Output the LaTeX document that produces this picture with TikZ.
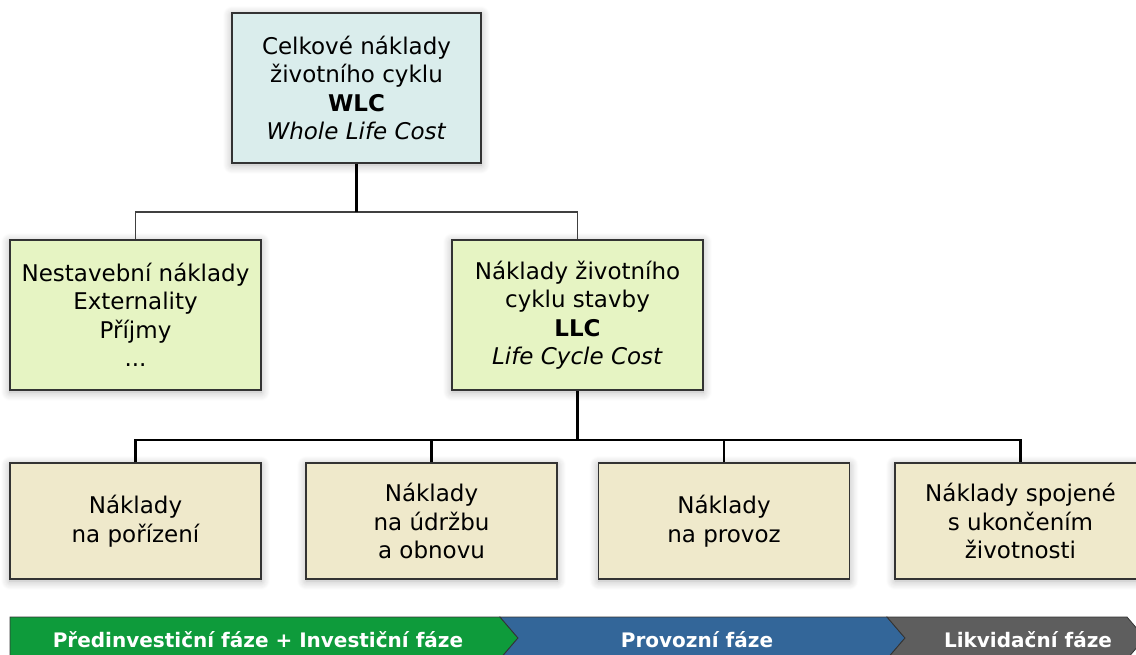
\documentclass[tikz,border=0pt]{standalone}
\usepackage{fontspec}
\setmainfont{DejaVu Sans}
\usetikzlibrary{shadows.blur}
\definecolor{topfill}{HTML}{DAEDEC}
\definecolor{greenfill}{HTML}{E6F4C3}
\definecolor{tanfill}{HTML}{EFE9CB}
\definecolor{boxline}{HTML}{333333}
\definecolor{phgreen}{HTML}{0E9B3B}
\definecolor{phblue}{HTML}{336699}
\definecolor{phgray}{HTML}{5E5E5E}
\tikzset{
  costbox/.style={draw=boxline, line width=1.3pt, rectangle, minimum width=251pt,
    align=center, inner sep=0pt, font=\fontsize{23}{28.5}\selectfont,
    blur shadow={shadow xshift=0pt, shadow yshift=-2pt, shadow blur steps=10, shadow blur radius=9pt, shadow opacity=30}},
  thinlink/.style={draw=black!75, line width=1.2pt},
  thicklink/.style={draw=black, line width=2.6pt},
  phase/.style={draw=black!80, line width=0.8pt},
  phasetext/.style={text=white, font=\fontsize{20}{22}\bfseries\selectfont}
}
\begin{document}
\begin{tikzpicture}[x=1pt, y=-1pt]
\useasboundingbox (0,0) rectangle (1136,655);
% boxes
\node[costbox, fill=topfill, minimum width=249pt, minimum height=150pt] (wlc) at (356.5,88)
  {Celkové náklady\\životního cyklu\\\textbf{WLC}\\\textit{Whole Life Cost}};
\node[costbox, fill=greenfill, minimum height=150pt] (other) at (135.5,315)
  {Nestavební náklady\\Externality\\Příjmy\\...};
\node[costbox, fill=greenfill, minimum height=150pt] (llc) at (577.5,315)
  {Náklady životního\\cyklu stavby\\\textbf{LLC}\\\textit{Life Cycle Cost}};
\node[costbox, fill=tanfill, minimum height=116pt] (acq) at (135.5,521)
  {Náklady\\na pořízení};
\node[costbox, fill=tanfill, minimum height=116pt] (maint) at (431.5,521)
  {Náklady\\na údržbu\\a obnovu};
\node[costbox, fill=tanfill, minimum height=116pt] (oper) at (724,521)
  {Náklady\\na provoz};
\node[costbox, fill=tanfill, minimum height=116pt] (end) at (1020.5,521)
  {Náklady spojené\\s ukončením\\životnosti};
% connectors
\coordinate (j1) at (356.5,212);
\coordinate (j2) at (577.5,440);
\draw[thinlink] (other.north) |- (j1) -| (llc.north);
\draw[line width=2.2pt] (wlc.south) -- (j1);
\draw[thicklink] (llc.south) -- (j2);
\draw[thicklink, line join=miter] (acq.north) |- (j2) -| (end.north);
\draw[thicklink] (maint.north) -- (maint.north |- j2);
\draw[thicklink] (oper.north) -- (oper.north |- j2);
% phase bar
\path[phase, fill=phgreen] (10,617) -- (500,617) -- (518,638) -- (500,659) -- (10,659) -- cycle;
\path[phase, fill=phblue] (500,617) -- (887,617) -- (905,638) -- (887,659) -- (500,659) -- (518,638) -- cycle;
\path[phase, fill=phgray] (887,617) -- (1127,617) -- (1145,638) -- (1127,659) -- (887,659) -- (905,638) -- cycle;
\node[phasetext] (p1) at (258,640) {Předinvestiční fáze + Investiční fáze};
\node[phasetext] (p2) at (697,640) {Provozní fáze};
\node[phasetext] (p3) at (1028,640) {Likvidační fáze};
\end{tikzpicture}
\end{document}
